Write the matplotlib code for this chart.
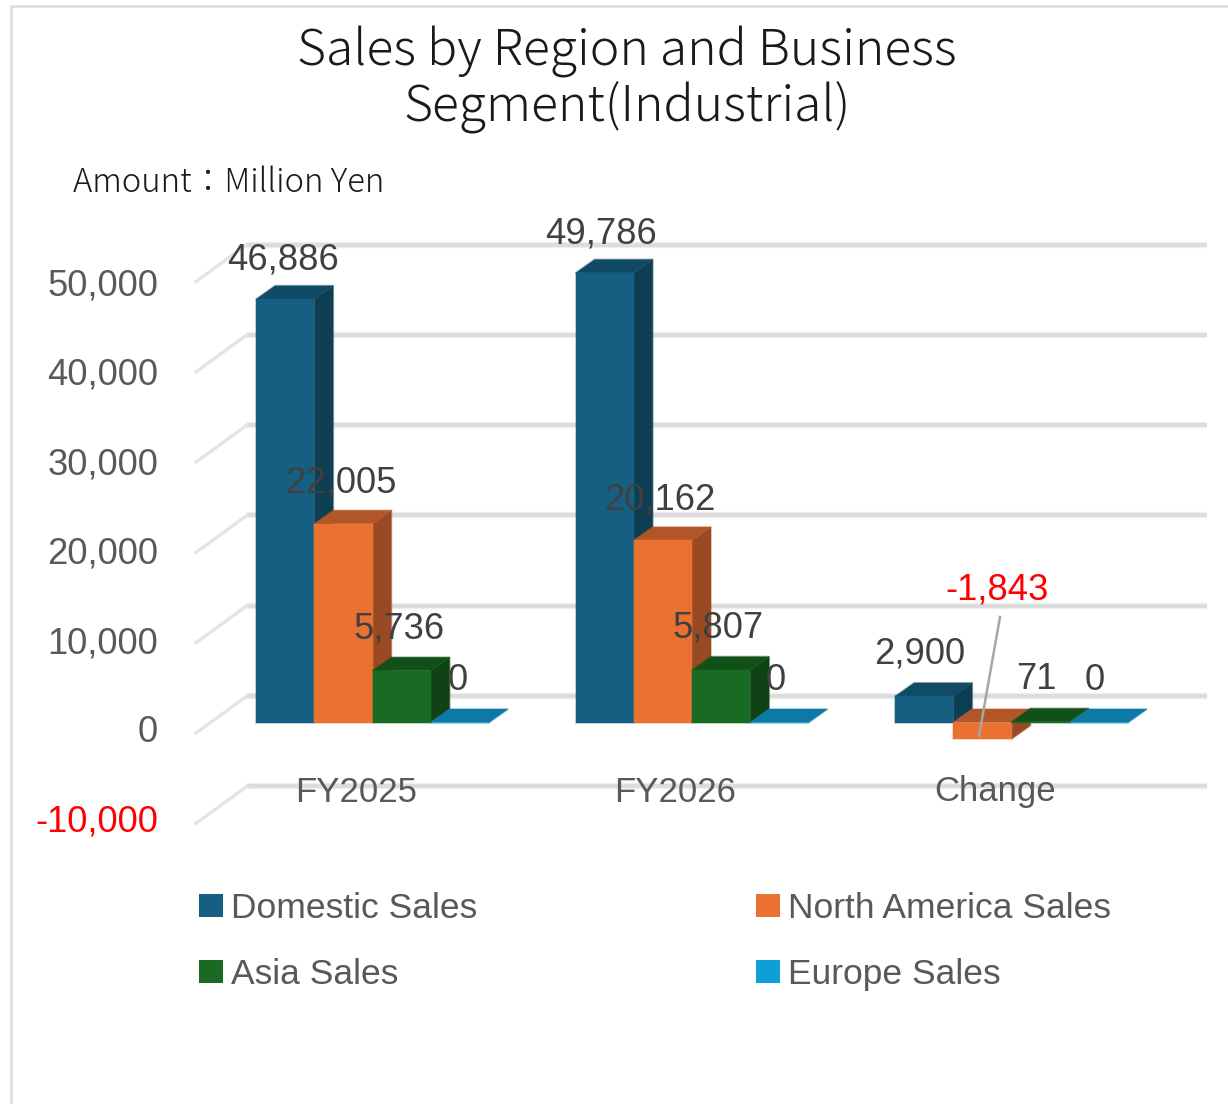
#!/usr/bin/env python3
from __future__ import annotations

import matplotlib

matplotlib.use("Agg")
import matplotlib.pyplot as plt
from matplotlib.colors import to_rgba
from matplotlib.patches import Patch, Rectangle
import numpy as np

CATEGORIES = ["FY2025", "FY2026", "Change"]
SERIES = ["Domestic Sales", "North America Sales", "Asia Sales", "Europe Sales"]
DOMESTIC = [46886, 49786, 2900]
NORTH_AMERICA = [22005, 20162, -1843]
ASIA = [5736, 5807, 71]
EUROPE = [0, 0, 0]
Y_TICKS = [-10000, 0, 10000, 20000, 30000, 40000, 50000]

FRONT = ["#156082", "#E97132", "#196B24", "#0F9ED5"]
TOP = ["#114A65", "#B25628", "#125019", "#0C7AA5"]
SIDE = ["#0E3E54", "#9A4A22", "#0F4316", "#0C7AA5"]

WIDTH_PX, HEIGHT_PX = 1228, 1104
ZERO_PY = 722.5  # pixel row of value 0 on the bar front
PX_PER_UNIT = 0.00903
FIRST_GROUP_PX = 372.5
GROUP_STEP_PX = 319.5
BAR_W = 58.2 / GROUP_STEP_PX
BAR_DX = 19 / GROUP_STEP_PX
BAR_DY = 13.5 / PX_PER_UNIT
LABEL_FONT = "Liberation Sans"
JP_FONT = ["Noto Sans CJK JP", "DejaVu Sans"]


def x_px(px: float) -> float:
    return (px - FIRST_GROUP_PX) / GROUP_STEP_PX


def y_px(py: float) -> float:
    return (ZERO_PY - py) / PX_PER_UNIT


def draw_walls(ax: plt.Axes) -> None:
    back_offset = 26.5 / PX_PER_UNIT
    front_offset = -10.5 / PX_PER_UNIT
    for tick in Y_TICKS:
        y_back = tick + back_offset
        ax.plot([x_px(247), x_px(1207)], [y_back, y_back], color="#efefef", lw=4.6, zorder=1, solid_capstyle="butt")
        ax.plot([x_px(247), x_px(1207)], [y_back, y_back], color="#dcdcdc", lw=2.8, zorder=1.1, solid_capstyle="butt")
        ax.plot([x_px(196), x_px(247)], [tick + front_offset, y_back], color="#e4e4e4", lw=2.4, zorder=1.1)


def draw_bar(ax: plt.Axes, left: float, value: float, idx: int, zorder: float) -> None:
    top = max(value, 0)
    bottom = min(value, 0)
    halo = to_rgba(FRONT[idx], 0.35)
    xs_top = [left, left + BAR_W, left + BAR_W + BAR_DX, left + BAR_DX]
    ys_top = [top, top, top + BAR_DY, top + BAR_DY]
    xs_side = [left + BAR_W, left + BAR_W + BAR_DX, left + BAR_W + BAR_DX, left + BAR_W]
    ys_side = [top, top + BAR_DY, bottom + BAR_DY, bottom]
    ax.fill(xs_side, ys_side, facecolor=SIDE[idx], edgecolor=to_rgba(SIDE[idx], 0.4), lw=1.2, zorder=zorder)
    ax.fill(xs_top, ys_top, facecolor=TOP[idx], edgecolor=to_rgba(TOP[idx], 0.4), lw=1.2, zorder=zorder + 0.1)
    if value != 0:
        ax.bar(left, value, width=BAR_W, align="edge", color=FRONT[idx], edgecolor=halo, linewidth=1.2, zorder=zorder + 0.2)
    else:
        ax.plot([left, left + BAR_W], [0, 0], color=halo, lw=1.5, zorder=zorder + 0.2)


def draw_bars(ax: plt.Axes, rows: list[list[int]]) -> None:
    x = np.arange(len(CATEGORIES))
    for group in x:
        for idx, values in enumerate(rows):
            left = group + (idx - 2) * BAR_W
            draw_bar(ax, left, values[group], idx, 2 + group + idx * 0.3)


def draw_labels(ax: plt.Axes, rows: list[list[int]]) -> None:
    x = np.arange(len(CATEGORIES))
    for group in x:
        for idx, values in enumerate(rows):
            value = values[group]
            center = group + (idx - 2 + 0.5) * BAR_W
            if value < 0:
                ax.text(x_px(997), y_px(590), f"{value:,}", color="#ff0000", fontsize=26.2, family=LABEL_FONT,
                        ha="center", va="center", zorder=20)
                ax.plot([x_px(1000), x_px(979)], [y_px(617), y_px(736)], color="#a6a6a6", lw=1.8, zorder=19)
                continue
            # labels drift a little closer to the bar the taller it is
            lift = 42.5 - 4 * value / 50000
            ax.annotate(f"{value:,}", xy=(center, value), xytext=(-2.5 - group, lift), textcoords="offset pixels",
                        color="#404040", fontsize=26.2, family=LABEL_FONT, ha="center", va="center", zorder=20)


def draw_axis_text(ax: plt.Axes) -> None:
    for tick in Y_TICKS:
        color = "#ff0000" if tick < 0 else "#595959"
        ax.text(x_px(158), tick * 0.99 + y_px(ZERO_PY + 10.5), f"{tick:,}", color=color, fontsize=26.2,
                family=LABEL_FONT, ha="right", va="center", zorder=20)
    for group, name in enumerate(CATEGORIES):
        ax.text(group + x_px(356), y_px(792), name, color="#595959", fontsize=25, family=LABEL_FONT,
                ha="center", va="center", zorder=20)


def main() -> None:
    fig = plt.figure(figsize=(WIDTH_PX / 100, HEIGHT_PX / 100), dpi=100, facecolor="#ffffff")
    ax = fig.add_axes([0, 0, 1, 1])
    ax.set_xlim(x_px(0), x_px(WIDTH_PX))
    ax.set_ylim(y_px(HEIGHT_PX), y_px(0))
    ax.axis("off")

    rows = [DOMESTIC, NORTH_AMERICA, ASIA, EUROPE]
    draw_walls(ax)
    draw_bars(ax, rows)
    draw_labels(ax, rows)
    draw_axis_text(ax)

    # chart frame, only top and left edges fall inside the crop
    fig.add_artist(Rectangle((11 / WIDTH_PX, -0.1), 1.1, 1.1 - 6.2 / HEIGHT_PX, transform=fig.transFigure,
                             facecolor="none", edgecolor="#dcdcdc", lw=1.8))

    fig.text(627 / WIDTH_PX, 1 - 80 / HEIGHT_PX, "Sales by Region and Business\nSegment(Industrial)", ha="center",
             va="center", fontsize=36, family=JP_FONT, weight="light", color="#1a1a1a", linespacing=1.08)
    fig.text(73 / WIDTH_PX, 1 - 183 / HEIGHT_PX, "Amount：Million Yen", ha="left", va="center", fontsize=23.6,
             family=JP_FONT, weight="light", color="#1a1a1a")

    order = [0, 2, 1, 3]
    handles = [Patch(facecolor=FRONT[i], label=SERIES[i]) for i in order]
    fig.legend(
        handles=handles,
        loc="upper left",
        ncol=2,
        frameon=False,
        bbox_to_anchor=(199 / WIDTH_PX, 1 - 892 / HEIGHT_PX),
        borderaxespad=0,
        borderpad=0,
        prop={"family": LABEL_FONT, "size": 25.5},
        labelcolor="#595959",
        handlelength=0.68,
        handleheight=0.65,
        handletextpad=0.22,
        columnspacing=7.88,
        labelspacing=0.93,
    )

    fig.savefig("out.png", dpi=100, facecolor=fig.get_facecolor())
    plt.close(fig)


if __name__ == "__main__":
    main()
